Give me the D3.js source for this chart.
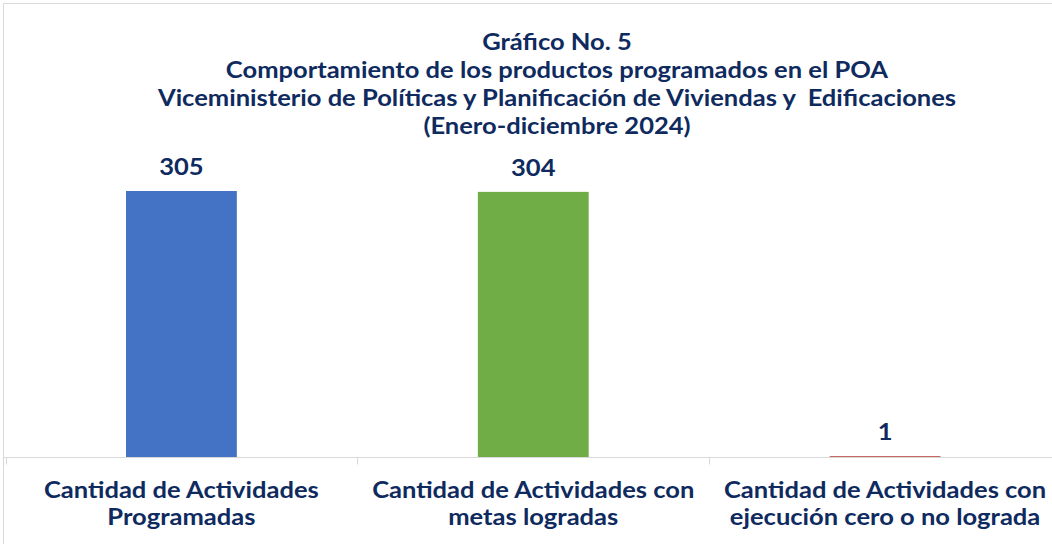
<!DOCTYPE html>
<html><head><meta charset="utf-8">
<script src="https://cdn.jsdelivr.net/npm/d3@7"></script>
<style>
html,body{margin:0;padding:0;background:#fff;}
svg{display:block;font-family:"Lato","Open Sans",sans-serif;}
</style></head>
<body>
<svg id="chart" width="1052" height="544"></svg>
<script>
const titleLines = [
  "Gráfico No. 5",
  "Comportamiento de los productos programados en el POA",
  "Viceministerio de Políticas y Planificación de Viviendas y  Edificaciones",
  "(Enero-diciembre 2024)"
];
const categories = [
  ["Cantidad de Actividades", "Programadas"],
  ["Cantidad de Actividades con", "metas logradas"],
  ["Cantidad de Actividades con", "ejecución cero o no lograda"]
];
const values = [305, 304, 1];
const colors = ["#4472C4", "#70AD47", "#C0504D"];

const svg = d3.select("#chart");
const navy = "#0E2A5E";
const widen = 1.16; // emulate the wider Gill Sans-like face

function addLine(x0, y0, txt, size) {
  const t = svg.append("text").attr("x", x0).attr("y", y0).attr("text-anchor", "middle")
    .attr("fill", navy).attr("font-weight", "bold").attr("font-size", size)
    .attr("xml:space", "preserve").style("white-space", "pre").text(txt);
  const w = t.node().getComputedTextLength();
  t.attr("textLength", w * widen).attr("lengthAdjust", "spacingAndGlyphs");
  return t;
}

// outer frame
svg.append("rect").attr("x", 3.5).attr("y", 3.5).attr("width", 1060).attr("height", 560)
  .attr("fill", "none").attr("stroke", "#d9d9d9").attr("stroke-width", 1);

const plot = {left: 5.5, right: 1061, top: 191, bottom: 457};
const keys = categories.map((c, i) => i);
const x = d3.scaleBand().domain(keys).range([plot.left, plot.right]).paddingInner(0.685).paddingOuter(0.3425);
const y = d3.scaleLinear().domain([0, 305]).range([plot.bottom, plot.top]);

// title
titleLines.forEach((t, i) => addLine(557, 50 + i * 28, t, 22));

// bars
svg.selectAll("rect.bar").data(values).join("rect").attr("class", "bar")
  .attr("x", (d, i) => x(i)).attr("width", x.bandwidth())
  .attr("y", d => y(d)).attr("height", d => Math.max(1, plot.bottom - y(d)))
  .attr("fill", (d, i) => colors[i]);

// data labels
values.forEach((d, i) => {
  addLine(x(i) + x.bandwidth() / 2, Math.min(y(d), plot.bottom - 1) - 16, d3.format("d")(d), 22);
});

// axis
const axisG = svg.append("g").attr("transform", `translate(0,${plot.bottom + 0.5})`);
const ax = d3.axisBottom(x).tickSize(0).tickFormat("");
axisG.call(ax);
axisG.select(".domain").attr("stroke", "#d9d9d9").attr("d", `M3,0H1052`);
axisG.selectAll("line.bd").data(d3.range(keys.length + 1)).join("line").attr("class", "bd")
  .attr("x1", i => Math.round(plot.left + i * x.step()) + 0.5)
  .attr("x2", i => Math.round(plot.left + i * x.step()) + 0.5)
  .attr("y1", 0).attr("y2", 7).attr("stroke", "#d9d9d9");

// category labels
categories.forEach((lines, i) => {
  lines.forEach((l, j) => addLine(x(i) + x.bandwidth() / 2, 498 + j * 27, l, 22));
});
</script>
</body></html>
